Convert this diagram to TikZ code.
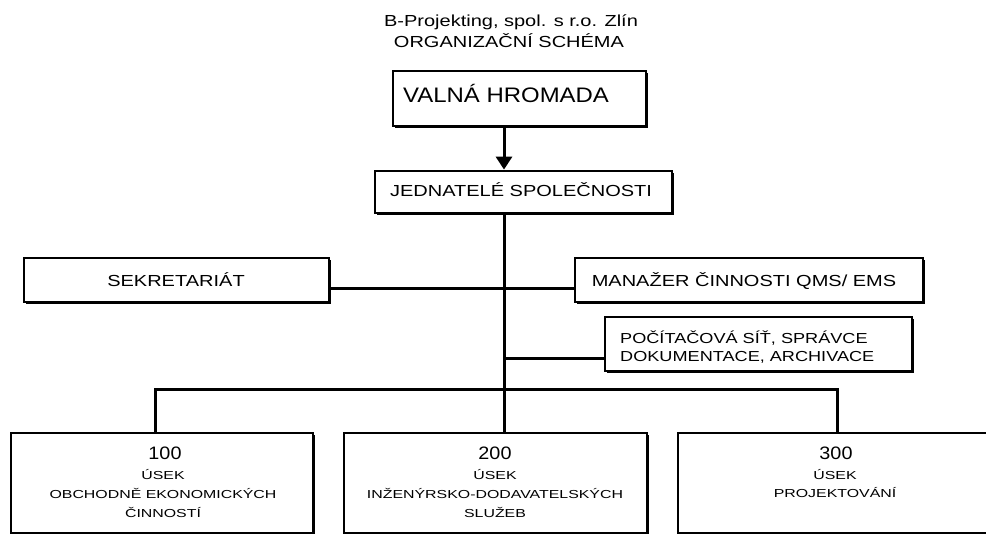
\documentclass[tikz,border=0pt]{standalone}
\usepackage{fontspec}
\usepackage{graphicx}
\setmainfont{Liberation Sans}
\newcommand\sw[1]{\scalebox{1.25}[1]{#1}}
\newcommand\sv[1]{\scalebox{1.14}[1]{#1}}
\newcommand\ssm[1]{\scalebox{1.37}[1]{#1}}
\newcommand\sdg[1]{\scalebox{1.1}[1]{#1}}
\usetikzlibrary{arrows.meta,shadows}
\begin{document}
\begin{tikzpicture}[x=1pt,y=-1pt,
  box/.style={draw, line width=2.8pt, fill=white, inner sep=0pt,
    drop shadow={shadow xshift=2.2pt, shadow yshift=-2.2pt, fill=black, opacity=1}},
  conn/.style={line width=3pt},
  arr/.style={line width=3pt, -{Triangle[width=16pt,length=13pt]}},
  tw/.style={anchor=base, inner sep=0pt, font=\fontsize{16}{19}\selectfont},
  tpc/.style={anchor=base west, inner sep=0pt, font=\fontsize{14.5}{18}\selectfont},
  tnum/.style={anchor=base, inner sep=0pt, font=\fontsize{18}{20}\selectfont},
  tsm/.style={anchor=base, inner sep=0pt, font=\fontsize{11.6}{19}\selectfont}]
\useasboundingbox (0,0) rectangle (986,534);
\fill[white] (0,0) rectangle (986,534);

% title
\node[tw] (tt1) at (511,27) {\sw{B-Projekting, spol. s r.o. Zlín}};
\node[tw] (tt2) at (509,48) {\sw{ORGANIZAČNÍ SCHÉMA}};

% boxes
\node[box, minimum width=253pt, minimum height=55pt] (val) at (519.5,98.5) {};
\node[box, minimum width=297pt, minimum height=42pt] (jed) at (523.5,192) {};
\node[box, minimum width=305pt, minimum height=44pt] (sek) at (176.5,280) {};
\node[box, minimum width=348pt, minimum height=44pt] (man) at (749,280) {};
\node[box, minimum width=307pt, minimum height=54pt] (pc) at (758.5,344) {};
\node[box, minimum width=302pt, minimum height=100pt] (b1) at (162,483) {};
\node[box, minimum width=303pt, minimum height=100pt] (b2) at (495.5,483) {};
\node[box, minimum width=317pt, minimum height=100pt] (b3) at (836.5,483) {};

% texts
\node[anchor=base west, inner sep=0pt, font=\fontsize{21}{24}\selectfont] (valt) at (403,103) {\sv{VALNÁ HROMADA}};
\node[tw] (jedt) at (521,197) {\sw{JEDNATELÉ SPOLEČNOSTI}};
\node[tw] (sekt) at (176,287) {\sw{SEKRETARIÁT}};
\node[tw] (mant) at (744,287) {\sw{MANAŽER ČINNOSTI QMS/ EMS}};
\node[tpc] (pc1) at (620,344) {\sw{POČÍTAČOVÁ SÍŤ, SPRÁVCE}};
\node[tpc] (pc2) at (620,362) {\sw{DOKUMENTACE, ARCHIVACE}};

\node[tnum] (b1n) at (165,460) {\sdg{100}};
\node[tsm] (b1a) at (163,480) {\ssm{ÚSEK}};
\node[tsm] (b1b) at (163,499) {\ssm{OBCHODNĚ EKONOMICKÝCH}};
\node[tsm] (b1c) at (163,518) {\ssm{ČINNOSTÍ}};

\node[tnum] (b2n) at (495,460) {\sdg{200}};
\node[tsm] (b2a) at (495,480) {\ssm{ÚSEK}};
\node[tsm] (b2b) at (495,499) {\ssm{INŽENÝRSKO-DODAVATELSKÝCH}};
\node[tsm] (b2c) at (495,518) {\ssm{SLUŽEB}};

\node[tnum] (b3n) at (836,460) {\sdg{300}};
\node[tsm] (b3a) at (835,480) {\ssm{ÚSEK}};
\node[tsm] (b3b) at (835,498) {\ssm{PROJEKTOVÁNÍ}};

% helper coordinates
\coordinate (spine) at (504,390);
\coordinate (busL) at (155,390);
\coordinate (busR) at (837,390);
\coordinate (h1) at (504,289);
\coordinate (h2) at (504,359);

% connectors
\draw[arr] (val.south -| spine) -- (jed.north -| spine);
\draw[conn] (jed.south -| spine) -- (spine);
\draw[conn] (sek.east |- h1) -- (man.west |- h1);
\draw[conn] (h2) -- (pc.west |- h2);
\draw[conn] (b1.north -| busL) -- (busL) -- (busR) -- (b3.north -| busR);
\draw[conn] (spine) -- (b2.north -| spine);
\end{tikzpicture}
\end{document}
